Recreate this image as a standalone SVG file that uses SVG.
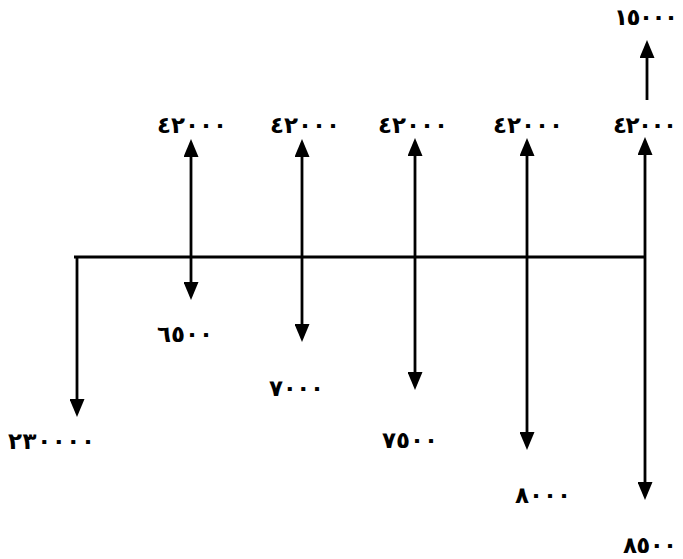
<svg xmlns="http://www.w3.org/2000/svg" width="683" height="559" viewBox="0 0 683 559">
<style>
  .ln { stroke: #000; stroke-width: 2.8; fill: none; }
  .lbl { font-family: "DejaVu Sans", "Noto Sans", sans-serif; font-size: 23px; font-weight: bold; fill: #000; }
</style>
<defs>
  <marker id="ah" markerUnits="userSpaceOnUse" markerWidth="18" markerHeight="15" viewBox="0 0 18 15" refX="8" refY="7.5" orient="auto-start-reverse">
    <path d="M0,0 L18,7.5 L0,15 z" fill="#000"/>
  </marker>
</defs>
<rect width="683" height="559" fill="#fff"/>
<g id="connectors">
  <line class="ln" x1="74" y1="257" x2="646" y2="257"/>
  <line class="ln" x1="77" y1="256" x2="77" y2="407" marker-end="url(#ah)"/>
  <line class="ln" x1="191" y1="149" x2="191" y2="290" marker-start="url(#ah)" marker-end="url(#ah)"/>
  <line class="ln" x1="302" y1="149" x2="302" y2="332" marker-start="url(#ah)" marker-end="url(#ah)"/>
  <line class="ln" x1="415" y1="148" x2="415" y2="380" marker-start="url(#ah)" marker-end="url(#ah)"/>
  <line class="ln" x1="527" y1="148" x2="527" y2="440" marker-start="url(#ah)" marker-end="url(#ah)"/>
  <line class="ln" x1="645" y1="147" x2="645" y2="490" marker-start="url(#ah)" marker-end="url(#ah)"/>
  <line class="ln" x1="647" y1="100" x2="647" y2="50" marker-end="url(#ah)"/>
</g>
<g id="label-top">
  <text class="lbl" x="614" y="25" textLength="64" lengthAdjust="spacing">١٥٠٠٠</text>
</g>
<g id="labels-inflow">
  <text class="lbl" x="157" y="133" textLength="70" lengthAdjust="spacing">٤٢٠٠٠</text>
  <text class="lbl" x="270" y="133" textLength="70" lengthAdjust="spacing">٤٢٠٠٠</text>
  <text class="lbl" x="378" y="133" textLength="70" lengthAdjust="spacing">٤٢٠٠٠</text>
  <text class="lbl" x="493" y="133" textLength="70" lengthAdjust="spacing">٤٢٠٠٠</text>
  <text class="lbl" x="613" y="133" textLength="64" lengthAdjust="spacing">٤٢٠٠٠</text>
</g>
<g id="labels-outflow">
  <text class="lbl" x="8" y="449" textLength="87" lengthAdjust="spacing">٢٣٠٠٠٠</text>
  <text class="lbl" x="157" y="342" textLength="56" lengthAdjust="spacing">٦٥٠٠</text>
  <text class="lbl" x="269" y="396" textLength="55" lengthAdjust="spacing">٧٠٠٠</text>
  <text class="lbl" x="382" y="448" textLength="56" lengthAdjust="spacing">٧٥٠٠</text>
  <text class="lbl" x="515" y="503" textLength="56" lengthAdjust="spacing">٨٠٠٠</text>
  <text class="lbl" x="623" y="553" textLength="54" lengthAdjust="spacing">٨٥٠٠</text>
</g>
</svg>
